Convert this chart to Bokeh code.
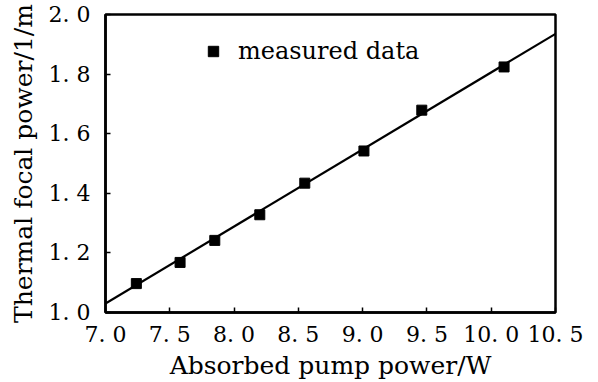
from bokeh.plotting import figure
from bokeh.models import Range1d, Legend, LegendItem, FixedTicker
from bokeh.embed import file_html
from bokeh.resources import INLINE

# measured data
pump_power = [7.24, 7.58, 7.85, 8.20, 8.55, 9.01, 9.46, 10.10]
focal_power = [1.097, 1.168, 1.242, 1.328, 1.434, 1.542, 1.679, 1.824]

# linear fit line (endpoints)
fit_x = [7.0, 10.5]
fit_y = [1.03, 1.935]

x_ticks = [7.0, 7.5, 8.0, 8.5, 9.0, 9.5, 10.0, 10.5]
x_tick_labels = ["7. 0", "7. 5", "8. 0", "8. 5", "9. 0", "9. 5", "10. 0", "10. 5"]
y_ticks = [1.0, 1.2, 1.4, 1.6, 1.8, 2.0]
y_tick_labels = ["1. 0", "1. 2", "1. 4", "1. 6", "1. 8", "2. 0"]

FONT = "DejaVu Serif"

p = figure(width=598, height=382, output_backend="svg", toolbar_location=None,
           x_range=Range1d(7.0, 10.5), y_range=Range1d(1.0, 2.0),
           min_border_left=105, min_border_right=43, min_border_top=14, min_border_bottom=69)
p.grid.visible = False
p.outline_line_color = "black"
p.outline_line_width = 2.5
p.background_fill_color = "white"
p.border_fill_color = "white"

line_r = p.line(fit_x, fit_y, line_color="black", line_width=2.2)
pts = p.scatter(pump_power, focal_power, marker="square", size=10,
                fill_color="black", line_color="black")

for ax, ticks, labels in ((p.xaxis[0], x_ticks, x_tick_labels), (p.yaxis[0], y_ticks, y_tick_labels)):
    ax.ticker = FixedTicker(ticks=ticks)
    ax.major_label_overrides = {t: l for t, l in zip(ticks, labels)}
    ax.minor_tick_line_color = None
    ax.major_tick_in = 5
    ax.major_tick_out = 0
    ax.major_tick_line_width = 1.5
    ax.axis_line_width = 2.5
    ax.major_label_text_font = FONT
    ax.major_label_text_font_size = "22px"
    ax.major_label_text_color = "black"
    ax.axis_label_text_font = FONT
    ax.axis_label_text_font_size = "25px"
    ax.axis_label_text_font_style = "normal"
    ax.axis_label_text_color = "black"

p.xaxis.axis_label = "Absorbed pump power/W"
p.yaxis.axis_label = "Thermal focal power/1/m"
p.xaxis.major_label_standoff = 9
p.xaxis.axis_label_standoff = 1
p.yaxis.major_label_standoff = 15
p.yaxis.axis_label_standoff = 8

legend = Legend(items=[LegendItem(label="measured data", renderers=[pts])],
                location=(95, 247), padding=0, margin=0,
                glyph_width=26, glyph_height=26, label_standoff=12,
                label_text_font=FONT, label_text_font_size="24px",
                label_text_color="black",
                border_line_color=None, background_fill_alpha=0)
p.add_layout(legend)

open("out.html", "w").write(file_html(p, INLINE))
